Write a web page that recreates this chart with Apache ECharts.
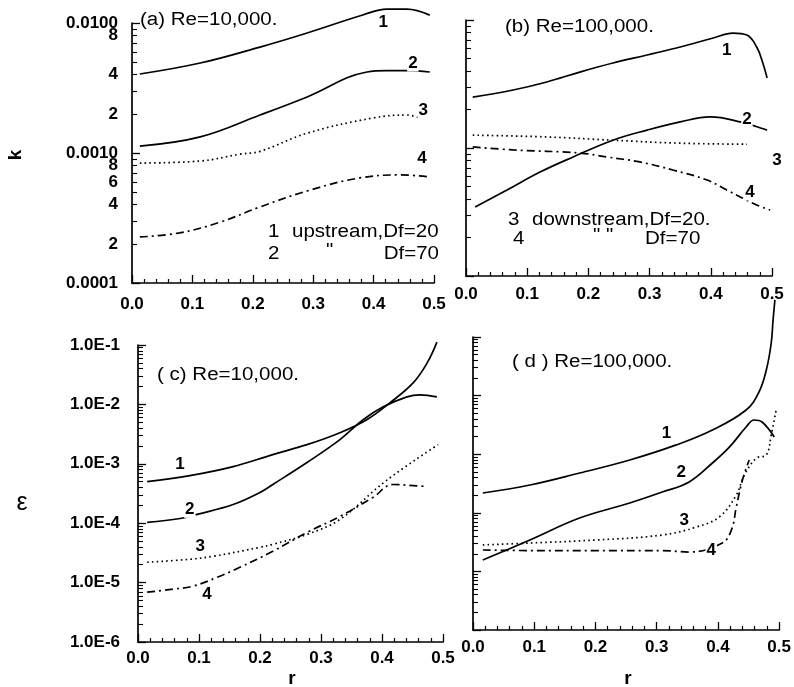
<!DOCTYPE html>
<html>
<head>
<meta charset="utf-8">
<script src="https://cdn.jsdelivr.net/npm/echarts@6/dist/echarts.min.js"></script>
<style>
  html, body { margin: 0; padding: 0; background: #fff; }
  #chart { width: 794px; height: 687px; }
</style>
</head>
<body>
<div id="chart"></div>
<script>
// ---- (a) k profiles, Re = 10,000 ----
const rA1 = [0.013, 0.113, 0.212, 0.29, 0.382, 0.422, 0.455, 0.493];
const kA1 = [0.00405, 0.00492, 0.00653, 0.00838, 0.01153, 0.0128, 0.0128, 0.0115];
const rA2 = [0.013, 0.113, 0.212, 0.29, 0.389, 0.422, 0.455, 0.493];
const kA2 = [0.00113, 0.00133, 0.00196, 0.0027, 0.0042, 0.0043, 0.0043, 0.0042];
const rA3 = [0.013, 0.113, 0.179, 0.212, 0.29, 0.399, 0.455, 0.477];
const kA3 = [0.000837, 0.000868, 0.00098, 0.00103, 0.00142, 0.00186, 0.00196, 0.00186];
const rA4 = [0.013, 0.079, 0.146, 0.212, 0.295, 0.377, 0.444, 0.493];
const kA4 = [0.000226, 0.000243, 0.000294, 0.000385, 0.000519, 0.000643, 0.000678, 0.000655];

// ---- (b) k profiles, Re = 100,000 ----
const rB1 = [0.011, 0.077, 0.132, 0.186, 0.240, 0.296, 0.350, 0.404, 0.436, 0.459, 0.475, 0.485, 0.492];
const kB1 = [0.0025, 0.00284, 0.00328, 0.00392, 0.00461, 0.00533, 0.00615, 0.00723, 0.00791, 0.00764, 0.00615, 0.00461, 0.00352];
const rB2 = [0.015, 0.067, 0.121, 0.175, 0.240, 0.296, 0.350, 0.399, 0.448, 0.492];
const kB2 = [0.000346, 0.00047, 0.000649, 0.000851, 0.00115, 0.00138, 0.0016, 0.00175, 0.0016, 0.00138];
const rB3 = [0.011, 0.132, 0.240, 0.350, 0.459];
const kB3 = [0.00126, 0.00122, 0.00115, 0.00109, 0.00107];
const rB4 = [0.011, 0.077, 0.186, 0.230, 0.284, 0.338, 0.394, 0.426, 0.475, 0.497];
const kB4 = [0.00102, 0.000966, 0.000914, 0.000851, 0.000778, 0.000673, 0.000562, 0.00047, 0.000359, 0.000328];

// ---- (c) epsilon profiles, Re = 10,000 ----
const rC1 = [0.015, 0.085, 0.156, 0.221, 0.277, 0.331, 0.375, 0.413, 0.451, 0.474, 0.490];
const eC1 = [0.000502, 0.000633, 0.000898, 0.00143, 0.0021, 0.00334, 0.00552, 0.01064, 0.023, 0.0499, 0.112];
const rC2 = [0.015, 0.069, 0.097, 0.156, 0.2, 0.221, 0.277, 0.331, 0.369, 0.402, 0.441, 0.462, 0.490];
const eC2 = [0.000103, 0.00012, 0.000141, 0.000206, 0.000329, 0.000448, 0.00105, 0.00255, 0.00552, 0.00912, 0.0134, 0.0145, 0.0134];
const rC3 = [0.015, 0.085, 0.123, 0.2, 0.221, 0.277, 0.331, 0.407, 0.492];
const eC3 = [2.2e-5, 2.47e-5, 2.77e-5, 3.93e-5, 4.41e-5, 6.49e-5, 0.000116, 0.000522, 0.0021];
const rC4 = [0.015, 0.057, 0.09, 0.13, 0.167, 0.221, 0.277, 0.331, 0.385, 0.418, 0.451, 0.474];
const eC4 = [6.9e-6, 7.75e-6, 8.7e-6, 1.23e-5, 1.81e-5, 3.36e-5, 7.0e-5, 0.00013, 0.000271, 0.000448, 0.00043, 0.000415];

// ---- (d) epsilon profiles, Re = 100,000 ----
const rD1 = [0.016, 0.093, 0.174, 0.256, 0.332, 0.391, 0.446, 0.467, 0.479, 0.487, 0.490, 0.493];
const eD1 = [0.000218, 0.000298, 0.000477, 0.000796, 0.00144, 0.00259, 0.00568, 0.0115, 0.0273, 0.079, 0.195, 0.43];
const rD2 = [0.016, 0.093, 0.174, 0.256, 0.309, 0.353, 0.391, 0.419, 0.446, 0.459, 0.472, 0.492];
const eD2 = [1.57e-5, 3.44e-5, 8.15e-5, 0.000147, 0.000226, 0.000336, 0.000708, 0.00133, 0.00291, 0.00383, 0.00354, 0.00197];
const rD3 = [0.016, 0.093, 0.202, 0.309, 0.365, 0.402, 0.430, 0.443, 0.463, 0.479, 0.487, 0.495];
const eD3 = [2.83e-5, 3.05e-5, 3.44e-5, 4.18e-5, 5.73e-5, 8.48e-5, 0.000201, 0.000442, 0.000861, 0.00097, 0.00213, 0.00568];
const rD4 = [0.016, 0.093, 0.202, 0.309, 0.353, 0.407, 0.422, 0.430, 0.440, 0.451];
const eD4 = [2.32e-5, 2.27e-5, 2.27e-5, 2.27e-5, 2.14e-5, 3.05e-5, 5.08e-5, 0.000126, 0.000363, 0.000796];

// curve numbers written next to the lines: text, r, value
const curveTags = ['1', '2', '3', '4'];
const tagA_r = [0.416, 0.465, 0.482, 0.48];
const tagA_v = [0.0102, 0.00492, 0.00214, 0.000916];
const tagB_r = [0.426, 0.459, 0.508, 0.464];
const tagB_v = [0.00583, 0.00169, 0.000806, 0.000453];
const tagC_r = [0.069, 0.085, 0.102, 0.113];
const tagC_v = [0.00097, 0.000171, 4.08e-5, 6.38e-6];
const tagD_r = [0.316, 0.340, 0.345, 0.389];
const tagD_v = [0.0023, 0.000497, 7.53e-5, 2.32e-5];

// axis tick values
const xTicks = [0.0, 0.1, 0.2, 0.3, 0.4, 0.5];
const kDecades = [-4, -3, -2];
const epsDecades = [-6, -5, -4, -3, -2, -1];
const kLabelMantissas = [2, 4, 6, 8];

const titles = ['(a) Re=10,000.', '(b) Re=100,000.', '( c) Re=10,000.', '( d ) Re=100,000.'];

const FONT = '"Liberation Sans", Arial, Helvetica, sans-serif';
const BLACK = '#000';

function minorsOf(decades) {
  const out = [];
  for (let i = 0; i < decades.length - 1; i++) {
    for (let m = 2; m <= 9; m++) out.push(decades[i] + Math.log10(m));
  }
  return out;
}
function kLabelValues() {
  const out = kDecades.slice();
  for (let i = 0; i < kDecades.length - 1; i++) {
    kLabelMantissas.forEach(m => out.push(kDecades[i] + Math.log10(m)));
  }
  return out;
}
function kFormatter(v) {
  const e = Math.floor(v + 1e-9);
  const m = Math.round(Math.pow(10, v - e));
  if (m === 1 || m === 10) return Math.pow(10, Math.round(v)).toFixed(4);
  return String(m);
}
function epsFormatter(v) {
  return '1.0E' + Math.round(v);
}

const dotted = [1.6, 3.2];
const dashDot = [8, 4, 2, 4];
const curveDash = ['solid', 'solid', dotted, dashDot];

const panels = [
  { box: { left: 132, top: 23, width: 302, height: 260 }, decades: kDecades, labels: 'k', xMargin: 13,
    curves: [[rA1, kA1], [rA2, kA2], [rA3, kA3], [rA4, kA4]], tags: [tagA_r, tagA_v] },
  { box: { left: 466, top: 20, width: 306, height: 256 }, decades: kDecades, labels: null, xMargin: 10,
    curves: [[rB1, kB1], [rB2, kB2], [rB3, kB3], [rB4, kB4]], tags: [tagB_r, tagB_v] },
  { box: { left: 138, top: 345, width: 305, height: 297 }, decades: epsDecades, labels: 'eps', xMargin: 8,
    curves: [[rC1, eC1], [rC2, eC2], [rC3, eC3], [rC4, eC4]], tags: [tagC_r, tagC_v] },
  { box: { left: 473, top: 337, width: 307, height: 293 }, decades: epsDecades, labels: null, xMargin: 9,
    curves: [[rD1, eD1], [rD2, eD2], [rD3, eD3], [rD4, eD4]], tags: [tagD_r, tagD_v] }
];

const grid = [], xAxis = [], yAxis = [], series = [];

panels.forEach((p, i) => {
  grid.push(Object.assign({}, p.box));
  const lo = p.decades[0], hi = p.decades[p.decades.length - 1];

  xAxis.push({
    gridIndex: i, type: 'value', min: 0, max: 0.5, interval: 0.1,
    axisLine: { show: true, onZero: false, lineStyle: { color: BLACK, width: 1.7 } },
    axisTick: { show: true, inside: true, length: 8, customValues: xTicks, lineStyle: { color: BLACK, width: 1.3 } },
    minorTick: { show: true, splitNumber: 5, length: 4, lineStyle: { color: BLACK, width: 1.2 } },
    splitLine: { show: false }, minorSplitLine: { show: false },
    axisLabel: { show: true, customValues: xTicks, color: BLACK, fontWeight: 'bold', fontSize: 17, fontFamily: FONT,
                 margin: p.xMargin, formatter: v => v.toFixed(1), showMinLabel: true, showMaxLabel: true, hideOverlap: false }
  });

  // decade ticks + labels
  let labelVals = null, fmt = null;
  if (p.labels === 'k') { labelVals = kLabelValues(); fmt = kFormatter; }
  if (p.labels === 'eps') { labelVals = p.decades.slice(); fmt = epsFormatter; }
  yAxis.push({
    gridIndex: i, type: 'value', position: 'left', min: lo, max: hi,
    axisLine: { show: true, onZero: false, lineStyle: { color: BLACK, width: 1.7 } },
    axisTick: { show: true, inside: true, length: 8, customValues: p.decades, lineStyle: { color: BLACK, width: 1.3 } },
    splitLine: { show: false },
    axisLabel: labelVals ? { show: true, customValues: labelVals, formatter: fmt, color: BLACK, fontWeight: 'bold',
                             fontSize: 17, fontFamily: FONT, margin: p.labels === 'k' ? 14 : 18,
                             showMinLabel: true, showMaxLabel: true, hideOverlap: false }
                         : { show: false }
  });
  // in-between log ticks
  yAxis.push({
    gridIndex: i, type: 'value', position: 'left', min: lo, max: hi,
    axisLine: { show: false },
    axisTick: { show: true, inside: true, length: 5, customValues: minorsOf(p.decades), lineStyle: { color: BLACK, width: 1.1 } },
    splitLine: { show: false }, axisLabel: { show: false }
  });

  p.curves.forEach((c, j) => {
    const [r, v] = c;
    series.push({
      type: 'line', xAxisIndex: i, yAxisIndex: 2 * i,
      data: r.map((x, n) => [x, Math.log10(v[n])]),
      smooth: 0.4, symbol: 'none', clip: false, silent: true,
      lineStyle: { color: BLACK, width: 1.7, type: curveDash[j] },
      z: 2
    });
  });

  const [tr, tv] = p.tags;
  series.push({
    type: 'scatter', xAxisIndex: i, yAxisIndex: 2 * i, clip: false, silent: true,
    symbolSize: 0, z: 5,
    itemStyle: { opacity: 1, color: BLACK },
    data: curveTags.map((t, n) => ({ value: [tr[n], Math.log10(tv[n])], name: t })),
    label: {
      show: true, position: 'inside', formatter: d => d.name,
      color: BLACK, opacity: 1, fontSize: 17, fontWeight: 'bold', fontFamily: FONT,
      textBorderWidth: 0, backgroundColor: '#fff', padding: [0, 1]
    },
    labelLayout: { hideOverlap: false }
  });
});

function txt(x, y, text, size, opts) {
  opts = opts || {};
  return {
    type: 'text', x: x, y: y, rotation: opts.rotation || 0, scaleX: opts.sx || 1, silent: true, z: 10,
    style: {
      text: text, fill: BLACK, fontSize: size, fontFamily: FONT, fontWeight: opts.weight || 'normal',
      textAlign: opts.align || 'left', align: opts.align || 'left',
      textVerticalAlign: 'middle', verticalAlign: 'middle'
    }
  };
}

const WIDE = 1.14;
const graphic = [
  txt(140, 20, titles[0], 18, { sx: WIDE }),
  txt(505, 27, titles[1], 18, { sx: WIDE }),
  txt(157, 375, titles[2], 18, { sx: WIDE }),
  txt(512, 362, titles[3], 18, { sx: WIDE }),
  // line legend, panel (a)
  txt(268, 232, '1', 18, { sx: WIDE }),
  txt(292, 232, 'upstream,Df=20', 18, { sx: WIDE }),
  txt(268, 254, '2', 18, { sx: WIDE }),
  txt(326, 251, '"', 18, { sx: WIDE }),
  txt(439, 254, 'Df=70', 18, { sx: WIDE, align: 'right' }),
  // line legend, panel (b)
  txt(508, 220, '3', 18, { sx: WIDE }),
  txt(532, 220, 'downstream,Df=20.', 18, { sx: WIDE }),
  txt(513, 239, '4', 18, { sx: WIDE }),
  txt(593, 236, '"', 18, { sx: WIDE }),
  txt(606, 236, '"', 18, { sx: WIDE }),
  txt(645, 239, 'Df=70', 18, { sx: WIDE }),
  // axis names
  txt(16, 155, 'k', 19, { rotation: Math.PI / 2, align: 'center', weight: 'bold' }),
  txt(22, 503, 'ε', 25, { align: 'center' }),
  txt(292, 679, 'r', 19, { align: 'center', weight: 'bold' }),
  txt(628, 679, 'r', 19, { align: 'center', weight: 'bold' })
];

const chart = echarts.init(document.getElementById('chart'), null, { renderer: 'canvas' });
chart.setOption({
  animation: false,
  backgroundColor: '#fff',
  grid: grid,
  xAxis: xAxis,
  yAxis: yAxis,
  series: series,
  graphic: graphic
});
</script>
</body>
</html>
